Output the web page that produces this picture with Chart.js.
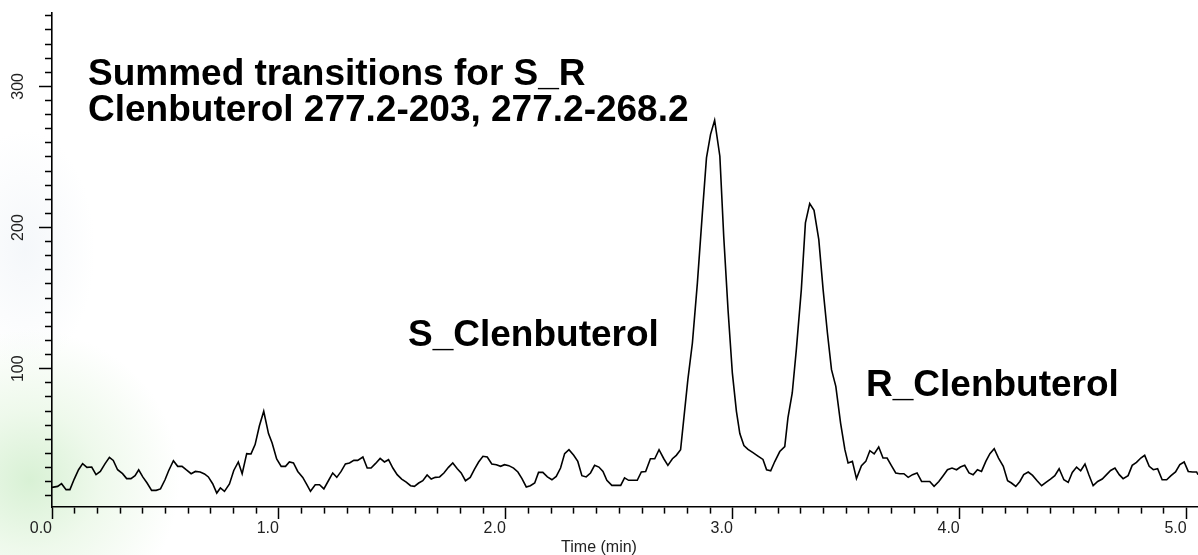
<!DOCTYPE html>
<html>
<head>
<meta charset="utf-8">
<script src="https://cdn.jsdelivr.net/npm/chart.js@4.4.1/dist/chart.umd.min.js"></script>
<style>
  html, body { margin: 0; padding: 0; }
  body {
    width: 1198px; height: 555px; overflow: hidden;
    background:
      radial-gradient(circle at 30px 480px, rgba(200,235,195,0.7) 0, rgba(218,242,212,0.45) 70px, rgba(255,255,255,0) 150px),
      radial-gradient(ellipse 70px 120px at 25px 250px, rgba(232,238,244,0.45), rgba(255,255,255,0)),
      #fff;
  }
  #wrap { position: relative; width: 1198px; height: 555px; }
</style>
</head>
<body>
<div id="wrap"><canvas id="chart"></canvas></div>
<script>
// retention time (min) and summed intensity
const times = [
  0.000, 0.025, 0.042, 0.062, 0.079, 0.098, 0.117, 0.135, 0.154, 0.175, 0.194, 0.213, 0.234, 0.253, 0.270, 0.289,
  0.311, 0.329, 0.348, 0.366, 0.382, 0.400, 0.419, 0.439, 0.459, 0.478, 0.498, 0.514, 0.535, 0.554, 0.573, 0.591,
  0.613, 0.632, 0.653, 0.672, 0.689, 0.708, 0.726, 0.742, 0.760, 0.782, 0.801, 0.821, 0.838, 0.858, 0.877, 0.895,
  0.914, 0.933, 0.954, 0.970, 0.990, 1.010, 1.029, 1.046, 1.064, 1.083, 1.105, 1.123, 1.139, 1.160, 1.179, 1.198,
  1.218, 1.237, 1.255, 1.274, 1.293, 1.311, 1.330, 1.347, 1.370, 1.389, 1.406, 1.425, 1.446, 1.465, 1.483, 1.502,
  1.521, 1.541, 1.561, 1.580, 1.597, 1.616, 1.634, 1.653, 1.671, 1.689, 1.708, 1.727, 1.747, 1.766, 1.786, 1.803,
  1.822, 1.843, 1.862, 1.880, 1.899, 1.918, 1.938, 1.958, 1.977, 1.994, 2.013, 2.034, 2.053, 2.071, 2.090, 2.108,
  2.127, 2.144, 2.163, 2.183, 2.203, 2.222, 2.241, 2.259, 2.278, 2.299, 2.317, 2.335, 2.354, 2.373, 2.391, 2.410,
  2.428, 2.445, 2.467, 2.487, 2.506, 2.523, 2.541, 2.560, 2.579, 2.597, 2.616, 2.637, 2.656, 2.675, 2.696, 2.714,
  2.734, 2.751, 2.770, 2.802, 2.822, 2.844, 2.866, 2.884, 2.902, 2.920, 2.943, 2.960, 2.979, 2.998, 3.016, 3.031,
  3.049, 3.067, 3.089, 3.111, 3.133, 3.149, 3.167, 3.185, 3.207, 3.229, 3.243, 3.262, 3.280, 3.302, 3.320, 3.339,
  3.358, 3.379, 3.398, 3.417, 3.435, 3.454, 3.475, 3.494, 3.508, 3.527, 3.545, 3.567, 3.586, 3.604, 3.623, 3.643,
  3.662, 3.680, 3.699, 3.718, 3.736, 3.754, 3.773, 3.792, 3.812, 3.832, 3.851, 3.868, 3.887, 3.908, 3.927, 3.946,
  3.966, 3.986, 4.003, 4.022, 4.041, 4.059, 4.078, 4.096, 4.115, 4.133, 4.152, 4.171, 4.192, 4.211, 4.228, 4.247,
  4.265, 4.282, 4.302, 4.321, 4.341, 4.361, 4.380, 4.400, 4.419, 4.438, 4.459, 4.478, 4.496, 4.515, 4.533, 4.552,
  4.569, 4.588, 4.608, 4.628, 4.647, 4.665, 4.684, 4.703, 4.720, 4.742, 4.760, 4.779, 4.798, 4.815, 4.835, 4.853,
  4.872, 4.892, 4.912, 4.931, 4.951, 4.970, 4.989, 5.007, 5.026, 5.044, 5.050
];
const intensity = [
  15.9, 16.6, 18.5, 14.3, 14.3, 21.8, 28.4, 32.7, 30.1, 30.3, 24.9, 27.2, 32.7, 37.2, 35.0, 28.4,
  25.6, 22.1, 22.1, 24.2, 28.4, 23.3, 19.0, 13.8, 13.8, 14.8, 21.3, 27.7, 34.8, 30.8, 30.8, 28.4,
  25.6, 27.2, 26.8, 25.4, 23.3, 18.5, 11.9, 15.5, 13.1, 18.3, 27.9, 33.9, 25.6, 39.8, 39.6, 46.2,
  59.6, 69.8, 54.0, 47.4, 36.0, 30.8, 30.8, 33.9, 33.2, 27.2, 23.0, 17.8, 13.1, 17.8, 17.8, 14.8,
  20.6, 26.1, 23.0, 27.2, 32.5, 33.2, 35.0, 35.0, 37.4, 29.6, 29.6, 32.7, 36.4, 33.9, 35.5, 29.6,
  24.9, 21.8, 19.7, 17.1, 16.6, 19.0, 20.6, 24.7, 21.8, 23.0, 23.3, 26.1, 30.1, 33.2, 29.1, 26.1,
  20.6, 23.0, 28.9, 33.9, 37.9, 37.4, 32.5, 32.0, 30.8, 32.0, 31.3, 29.6, 26.8, 22.1, 16.2, 17.1,
  19.0, 26.5, 26.5, 23.3, 21.3, 23.7, 29.6, 39.8, 42.6, 38.6, 34.3, 24.2, 23.3, 26.1, 31.5, 30.3,
  27.2, 20.9, 17.3, 17.3, 17.3, 22.6, 20.9, 20.9, 20.9, 26.8, 27.2, 36.2, 36.2, 42.6, 36.2, 31.5,
  36.2, 38.6, 42.6, 92.2, 118.2, 160.8, 210.4, 249.3, 266.0, 276.0, 250.5, 193.8, 141.8, 97.0, 69.8, 54.0,
  45.5, 42.8, 40.5, 38.1, 35.7, 28.3, 27.6, 34.2, 41.3, 44.8, 65.1, 82.8, 113.5, 156.0, 203.3, 217.0,
  212.2, 191.4, 156.0, 125.3, 99.3, 87.5, 61.5, 42.6, 33.2, 34.3, 22.1, 31.3, 34.3, 41.9, 39.6, 44.5,
  36.7, 36.7, 31.3, 26.1, 25.6, 25.6, 23.0, 24.9, 26.1, 20.1, 20.1, 20.1, 16.6, 20.1, 24.2, 28.4,
  29.6, 28.4, 30.3, 31.5, 26.1, 24.9, 28.4, 27.2, 34.3, 39.8, 43.3, 36.7, 30.8, 20.6, 19.0, 16.6,
  20.1, 24.9, 26.8, 24.4, 20.6, 17.1, 19.4, 21.8, 24.2, 29.1, 21.3, 19.4, 26.5, 30.3, 27.7, 32.5,
  24.9, 17.1, 20.1, 21.8, 24.9, 27.9, 29.6, 24.9, 22.1, 24.2, 31.5, 33.6, 36.7, 38.6, 30.8, 28.4,
  29.1, 21.3, 21.3, 24.2, 26.8, 32.0, 33.9, 27.2, 26.8, 26.8, 24.9
];

const yLabels = [100, 200, 300];
const titleLines = ["Summed transitions for S_R", "Clenbuterol 277.2-203, 277.2-268.2"];
const peakLabels = ["S_Clenbuterol", "R_Clenbuterol"];
const xTitle = "Time (min)";

const fontFamily = "'Liberation Sans', Arial, sans-serif";

const points = times.map((t, i) => ({ x: t, y: intensity[i] }));

function isWhole(v, step) {
  const r = v / step;
  return Math.abs(r - Math.round(r)) < 1e-6;
}

// text drawn on top of the plot: y tick labels (rotated), axis title, annotations
const overlayText = {
  id: "overlayText",
  afterDraw(chart) {
    const { ctx, scales } = chart;
    const ys = scales.y;
    ctx.save();
    ctx.fillStyle = "#222";
    ctx.font = `16px ${fontFamily}`;
    yLabels.forEach((v) => {
      ctx.save();
      ctx.translate(23, ys.getPixelForValue(v));
      ctx.rotate(-Math.PI / 2);
      ctx.textAlign = "center";
      ctx.textBaseline = "alphabetic";
      ctx.fillText(String(v), 0, 0);
      ctx.restore();
    });

    ctx.textAlign = "center";
    ctx.textBaseline = "alphabetic";
    ctx.fillText(xTitle, 599, 552);

    ctx.fillStyle = "#000";
    ctx.textAlign = "left";
    ctx.font = `bold 37px ${fontFamily}`;
    ctx.fillText(titleLines[0], 88, 85);
    ctx.fillText(titleLines[1], 88, 121);
    ctx.fillText(peakLabels[0], 408, 346);
    ctx.fillText(peakLabels[1], 866, 396);
    ctx.restore();
  },
};

const canvas = document.getElementById("chart");
canvas.width = 1198;
canvas.height = 555;

new Chart(canvas, {
  type: "line",
  data: {
    datasets: [
      {
        data: points,
        borderColor: "#000",
        borderWidth: 1.6,
        pointRadius: 0,
        tension: 0,
        fill: false,
      },
    ],
  },
  options: {
    responsive: false,
    animation: false,
    events: [],
    layout: { padding: { top: 13, right: 0, left: 0, bottom: 0 } },
    plugins: {
      legend: { display: false },
      tooltip: { enabled: false },
    },
    scales: {
      x: {
        type: "linear",
        min: 0,
        max: 5.05,
        afterBuildTicks: (scale) => {
          const ticks = [];
          for (let i = 0; i <= 50; i++) ticks.push({ value: i / 10 });
          scale.ticks = ticks;
        },
        afterFit: (scale) => {
          scale.height = 48;
        },
        ticks: {
          autoSkip: false,
          maxRotation: 0,
          minRotation: 0,
          align: "end",
          padding: 0,
          color: "#222",
          font: { family: fontFamily, size: 16 },
          callback: (v) => (isWhole(v, 1) ? v.toFixed(1) : ""),
        },
        grid: {
          drawOnChartArea: false,
          drawTicks: true,
          tickLength: 12,
          tickColor: "#000",
          tickWidth: 1.5,
          tickBorderDash: (ctx) => (ctx.tick && isWhole(ctx.tick.value, 1) ? [] : [6, 100]),
        },
        border: { color: "#000", width: 1.6 },
      },
      y: {
        type: "linear",
        min: 2,
        max: 352,
        afterBuildTicks: (scale) => {
          const ticks = [];
          for (let v = 10; v <= 350; v += 10) ticks.push({ value: v });
          scale.ticks = ticks;
        },
        afterFit: (scale) => {
          scale.width = 52;
        },
        ticks: {
          autoSkip: false,
          padding: 0,
          callback: () => "",
        },
        grid: {
          drawOnChartArea: false,
          drawTicks: true,
          tickLength: 13,
          tickColor: "#000",
          tickWidth: 1.5,
          tickBorderDash: (ctx) => (ctx.tick && isWhole(ctx.tick.value, 100) ? [] : [0, 6, 7, 100]),
        },
        border: { color: "#000", width: 1.6 },
      },
    },
  },
  plugins: [overlayText],
});
</script>
</body>
</html>
